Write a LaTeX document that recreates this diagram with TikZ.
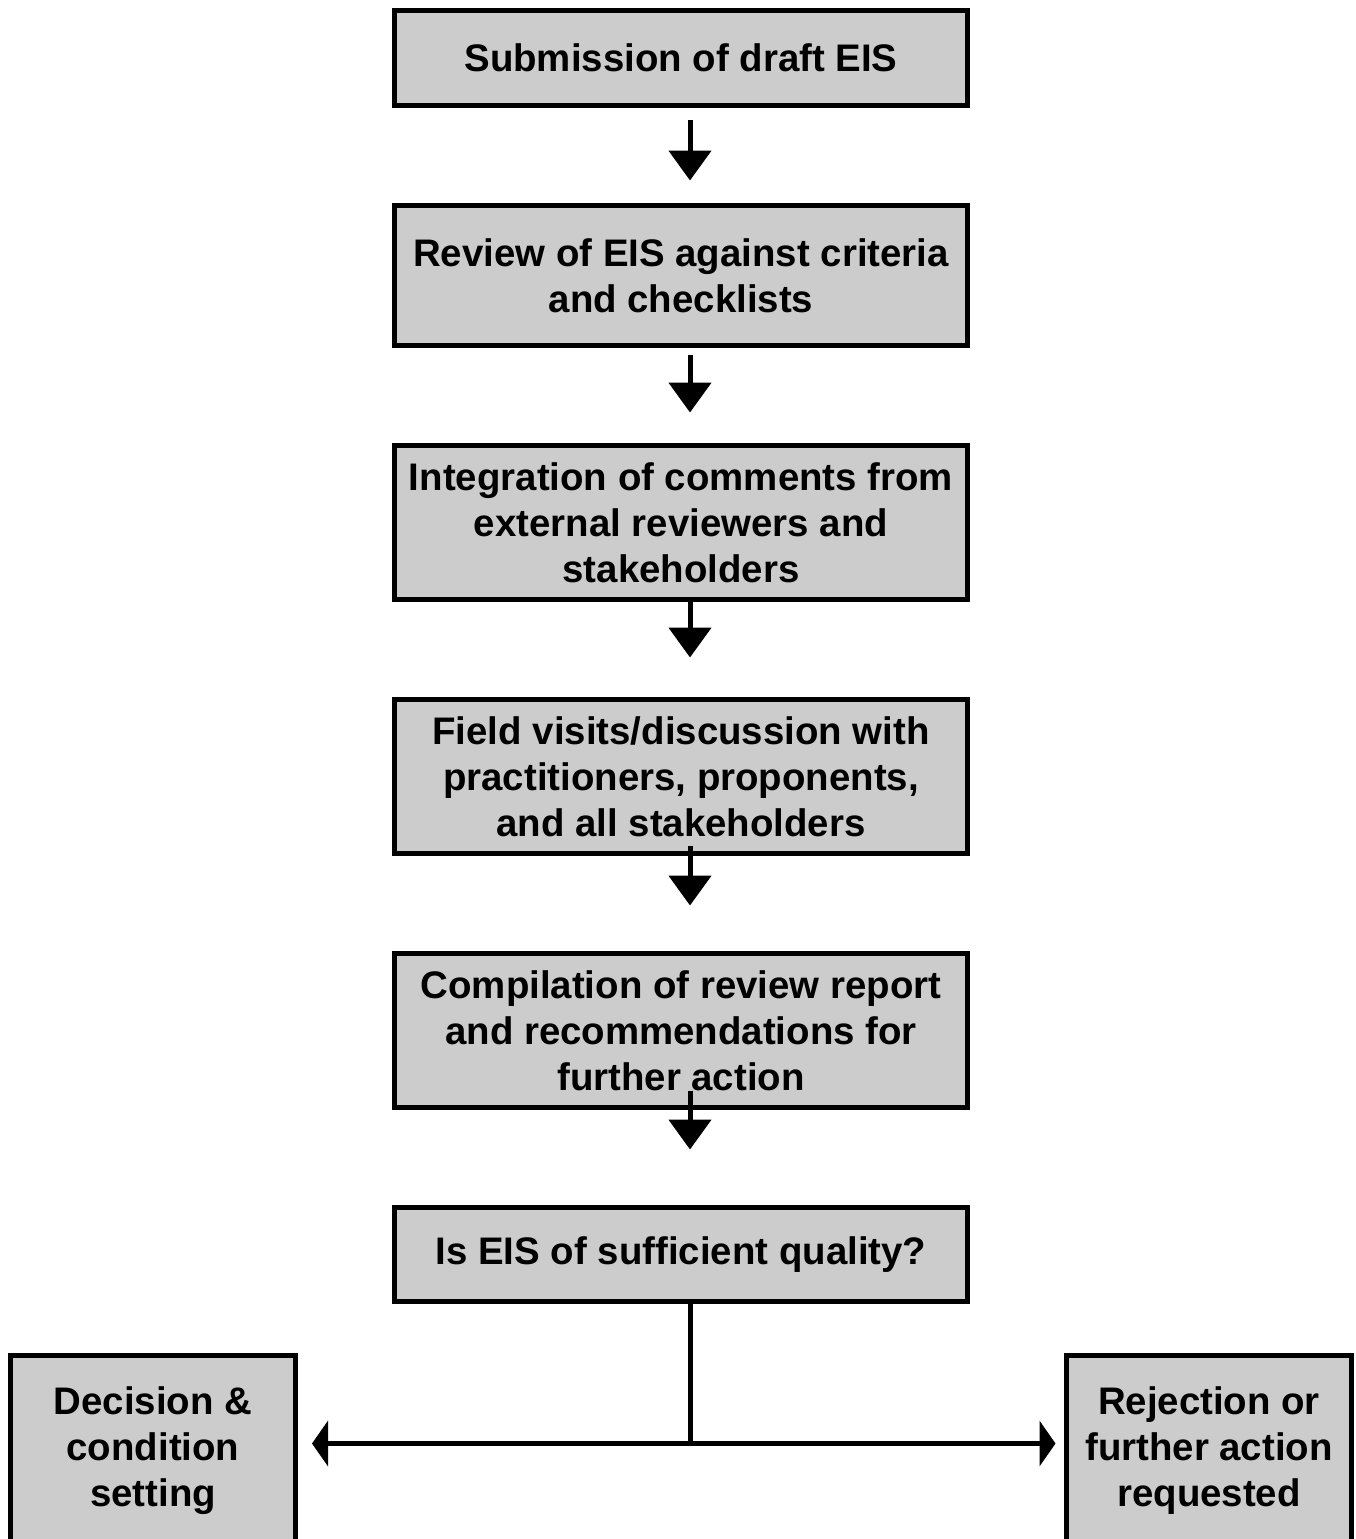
\documentclass[tikz,border=0pt]{standalone}
\usepackage{fontspec}
\setmainfont{Liberation Sans}
\usetikzlibrary{arrows.meta,calc}
\definecolor{boxgray}{HTML}{CCCCCC}
\begin{document}
\begin{tikzpicture}[x=1pt,y=-1pt,
  flowbox/.style={draw=black,line width=5pt,fill=boxgray,align=center,
    font=\bfseries\fontsize{38.4}{46}\selectfont,inner sep=0pt},
  mainbox/.style={flowbox,minimum width=573pt},
  sidebox/.style={flowbox,minimum width=285pt,minimum height=191pt},
  varr/.style={line width=5pt,-{Triangle[length=30pt,width=42pt]}},
  harr/.style={line width=5pt,{Triangle[length=16pt,width=45pt]}-{Triangle[length=16pt,width=45pt]}},
  plain/.style={line width=5pt}]
\useasboundingbox (0,0) rectangle (1356,1539);
\clip (0,0) rectangle (1356,1539);
\fill[white] (0,0) rectangle (1356,1539);
\node[mainbox,minimum height=95pt] (b1) at (681,58) {Submission of draft EIS};
\node[mainbox,minimum height=140pt] (b2) at (681,275.5) {Review of EIS against criteria\\and checklists};
\node[mainbox,minimum height=154pt] (b3) at (681,522.5) {Integration of comments from\\external reviewers and\\stakeholders};
\node[mainbox,minimum height=154pt] (b4) at (681,776.5) {Field visits/discussion with\\practitioners, proponents,\\and all stakeholders};
\node[mainbox,minimum height=154pt] (b5) at (681,1030.5) {Compilation of review report\\and recommendations for\\further action};
\node[mainbox,minimum height=94pt] (b6) at (681,1254.5) {Is EIS of sufficient quality?};
\node[sidebox] (bl) at (153,1451) {Decision \&\\condition\\setting};
\node[sidebox] (br) at (1209,1451) {Rejection or\\further action\\requested};
\draw[varr] ([xshift=9pt,yshift=-11.5pt]b1.south) -- ++(0,61);
\draw[varr] ([xshift=9pt,yshift=-6.5pt]b2.south) -- ++(0,58);
\draw[varr] ([xshift=9pt,yshift=3.5pt]b3.south) -- ++(0,59);
\draw[varr] ([xshift=9pt,yshift=10.5pt]b4.south) -- ++(0,60);
\draw[varr] ([xshift=9pt,yshift=19.5pt]b5.south) -- ++(0,59);
\coordinate (jn) at ($(b6.south)+(9,139.5)$);
\draw[plain] ([xshift=9pt]b6.south) -- (jn);
\draw[harr] ([xshift=14pt]bl.east |- jn) -- ([xshift=-8.5pt]br.west |- jn);
\end{tikzpicture}
\end{document}
